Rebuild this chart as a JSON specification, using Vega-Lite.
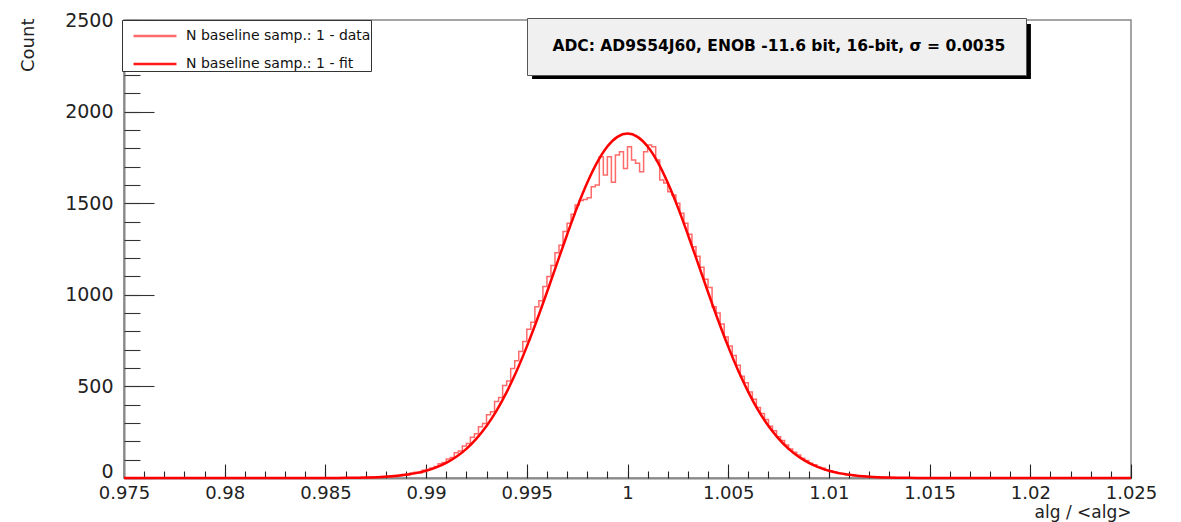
{
  "$schema": "https://vega.github.io/schema/vega-lite/v6.json",
  "width": 1007,
  "height": 458,
  "autosize": {"type": "none"},
  "padding": {"left": 124, "top": 20, "right": 50, "bottom": 44},
  "background": "white",
  "config": {
    "font": "DejaVu Sans",
    "view": {"stroke": "#888888", "strokeWidth": 1.5}
  },
  "resolve": {"axis": {"x": "independent", "y": "independent"}, "scale": {"x": "shared", "y": "shared"}},
  "layer": [
    {
      "data": {"values": [
        {"x": 0.975, "count": 0},
        {"x": 0.9870, "count": 2}, {"x": 0.9872, "count": 5}, {"x": 0.9874, "count": 3}, {"x": 0.9876, "count": 6}, {"x": 0.9878, "count": 8},
        {"x": 0.9880, "count": 10}, {"x": 0.9882, "count": 7}, {"x": 0.9884, "count": 14}, {"x": 0.9886, "count": 12}, {"x": 0.9888, "count": 19},
        {"x": 0.9890, "count": 17}, {"x": 0.9892, "count": 27}, {"x": 0.9894, "count": 31}, {"x": 0.9896, "count": 29}, {"x": 0.9898, "count": 42},
        {"x": 0.9900, "count": 47}, {"x": 0.9902, "count": 55}, {"x": 0.9904, "count": 63}, {"x": 0.9906, "count": 78}, {"x": 0.9908, "count": 85},
        {"x": 0.9910, "count": 104}, {"x": 0.9912, "count": 112}, {"x": 0.9914, "count": 138}, {"x": 0.9916, "count": 147}, {"x": 0.9918, "count": 175},
        {"x": 0.9920, "count": 188}, {"x": 0.9922, "count": 222}, {"x": 0.9924, "count": 241}, {"x": 0.9926, "count": 280}, {"x": 0.9928, "count": 298},
        {"x": 0.9930, "count": 345}, {"x": 0.9932, "count": 362}, {"x": 0.9934, "count": 418}, {"x": 0.9936, "count": 440}, {"x": 0.9938, "count": 505},
        {"x": 0.9940, "count": 530}, {"x": 0.9942, "count": 598}, {"x": 0.9944, "count": 640}, {"x": 0.9946, "count": 690}, {"x": 0.9948, "count": 745},
        {"x": 0.9950, "count": 812}, {"x": 0.9952, "count": 850}, {"x": 0.9954, "count": 935}, {"x": 0.9956, "count": 968}, {"x": 0.9958, "count": 1045},
        {"x": 0.9960, "count": 1100}, {"x": 0.9962, "count": 1160}, {"x": 0.9964, "count": 1230}, {"x": 0.9966, "count": 1270}, {"x": 0.9968, "count": 1345},
        {"x": 0.9970, "count": 1390}, {"x": 0.9972, "count": 1440}, {"x": 0.9974, "count": 1490}, {"x": 0.9976, "count": 1515}, {"x": 0.9978, "count": 1520},
        {"x": 0.9980, "count": 1530}, {"x": 0.9982, "count": 1590}, {"x": 0.9984, "count": 1600}, {"x": 0.9986, "count": 1754}, {"x": 0.9988, "count": 1654},
        {"x": 0.9990, "count": 1754}, {"x": 0.9992, "count": 1615}, {"x": 0.9994, "count": 1763}, {"x": 0.9996, "count": 1781}, {"x": 0.9998, "count": 1690},
        {"x": 1.0000, "count": 1808}, {"x": 1.0002, "count": 1736}, {"x": 1.0004, "count": 1718}, {"x": 1.0006, "count": 1672}, {"x": 1.0008, "count": 1781},
        {"x": 1.0010, "count": 1818}, {"x": 1.0012, "count": 1808}, {"x": 1.0014, "count": 1736}, {"x": 1.0016, "count": 1627}, {"x": 1.0018, "count": 1610},
        {"x": 1.0020, "count": 1563}, {"x": 1.0022, "count": 1545}, {"x": 1.0024, "count": 1500}, {"x": 1.0026, "count": 1445}, {"x": 1.0028, "count": 1390},
        {"x": 1.0030, "count": 1330}, {"x": 1.0032, "count": 1262}, {"x": 1.0034, "count": 1210}, {"x": 1.0036, "count": 1150}, {"x": 1.0038, "count": 1085},
        {"x": 1.0040, "count": 1040}, {"x": 1.0042, "count": 935}, {"x": 1.0044, "count": 900}, {"x": 1.0046, "count": 840}, {"x": 1.0048, "count": 770},
        {"x": 1.0050, "count": 720}, {"x": 1.0052, "count": 668}, {"x": 1.0054, "count": 615}, {"x": 1.0056, "count": 555}, {"x": 1.0058, "count": 520},
        {"x": 1.0060, "count": 470}, {"x": 1.0062, "count": 430}, {"x": 1.0064, "count": 385}, {"x": 1.0066, "count": 352}, {"x": 1.0068, "count": 320},
        {"x": 1.0070, "count": 282}, {"x": 1.0072, "count": 258}, {"x": 1.0074, "count": 225}, {"x": 1.0076, "count": 205}, {"x": 1.0078, "count": 180},
        {"x": 1.0080, "count": 158}, {"x": 1.0082, "count": 140}, {"x": 1.0084, "count": 126}, {"x": 1.0086, "count": 108}, {"x": 1.0088, "count": 95},
        {"x": 1.0090, "count": 81}, {"x": 1.0092, "count": 72}, {"x": 1.0094, "count": 60}, {"x": 1.0096, "count": 54}, {"x": 1.0098, "count": 44},
        {"x": 1.0100, "count": 39}, {"x": 1.0102, "count": 33}, {"x": 1.0104, "count": 25}, {"x": 1.0106, "count": 24}, {"x": 1.0108, "count": 18},
        {"x": 1.0110, "count": 17}, {"x": 1.0112, "count": 12}, {"x": 1.0114, "count": 11}, {"x": 1.0116, "count": 9}, {"x": 1.0118, "count": 8},
        {"x": 1.0120, "count": 6}, {"x": 1.0122, "count": 5}, {"x": 1.0124, "count": 3}, {"x": 1.0126, "count": 4}, {"x": 1.0128, "count": 2},
        {"x": 1.0130, "count": 0},
        {"x": 1.025, "count": 0}
      ]},
      "mark": {"type": "line", "interpolate": "step-after", "strokeWidth": 1.5, "opacity": 0.9},
      "encoding": {
        "x": {"field": "x", "type": "quantitative",
          "scale": {"domain": [0.975, 1.025], "nice": false, "zero": false},
          "axis": {"orient": "bottom", "values": [0.975, 0.98, 0.985, 0.99, 0.995, 1, 1.005, 1.01, 1.015, 1.02, 1.025],
            "format": "~g", "grid": false, "tickSize": -14, "tickColor": "#222222", "tickWidth": 1.1,
            "labelFont": "DejaVu Sans", "labelFontSize": 18, "labelColor": "#222222", "labelPadding": 20, "labelDx": -3,
            "labelFlush": false, "labelOverlap": false, "domainColor": "#888888", "domainWidth": 2,
            "title": "alg / <alg>", "titleFont": "DejaVu Sans", "titleFontSize": 17, "titleFontWeight": "normal", "titleColor": "#222222",
            "titleAlign": "right", "titleBaseline": "alphabetic", "titleX": 1007, "titleY": 39}},
        "y": {"field": "count", "type": "quantitative",
          "scale": {"domain": [0, 2500], "nice": false},
          "axis": {"orient": "left", "values": [0, 500, 1000, 1500, 2000, 2500], "format": "d", "grid": false,
            "tickSize": -30, "tickColor": "#333333", "tickWidth": 1.1,
            "labelFont": "DejaVu Sans", "labelFontSize": 19, "labelColor": "#222222", "labelPadding": 41,
            "labelOffset": {"condition": {"test": "datum.value === 0", "value": -7}, "value": 0},
            "labelFlush": false, "labelOverlap": false, "domainColor": "#888888", "domainWidth": 2,
            "title": "Count", "titleFont": "DejaVu Sans", "titleFontSize": 18, "titleFontWeight": "normal", "titleColor": "#222222",
            "titleAngle": -90, "titleAlign": "right", "titleBaseline": "middle", "titleX": -96, "titleY": -2}},
        "color": {"datum": "N baseline samp.: 1 - data", "type": "nominal",
          "scale": {"domain": ["N baseline samp.: 1 - data", "N baseline samp.: 1 - fit"], "range": ["#ff5a5a", "#ff0000"]},
          "legend": {"orient": "none", "legendX": -2, "legendY": 0, "title": null, "padding": 0,
            "symbolType": "M-1.48,0H1.48", "symbolSize": 841, "symbolStrokeWidth": 2.5, "symbolOffset": 17,
            "labelOffset": 15, "rowPadding": 5, "labelFont": "DejaVu Sans", "labelFontSize": 14, "labelColor": "#111111",
            "labelLimit": 1000, "fillColor": "white", "strokeColor": "#333333"}}
      }
    },
    {
      "data": {"values": [
        {"x": 0.975, "fit": 0}, {"x": 0.980, "fit": 0}, {"x": 0.985, "fit": 0.3}, {"x": 0.986, "fit": 1}, {"x": 0.987, "fit": 2.8},
        {"x": 0.988, "fit": 7.3}, {"x": 0.9885, "fit": 11.4}, {"x": 0.989, "fit": 17.7}, {"x": 0.9895, "fit": 26.7}, {"x": 0.990, "fit": 39.7},
        {"x": 0.9905, "fit": 57.8}, {"x": 0.991, "fit": 82.6}, {"x": 0.9915, "fit": 116}, {"x": 0.992, "fit": 159}, {"x": 0.9925, "fit": 215},
        {"x": 0.993, "fit": 284}, {"x": 0.9935, "fit": 368}, {"x": 0.994, "fit": 469}, {"x": 0.9945, "fit": 585}, {"x": 0.995, "fit": 717},
        {"x": 0.9955, "fit": 861}, {"x": 0.996, "fit": 1014}, {"x": 0.9965, "fit": 1172}, {"x": 0.997, "fit": 1328}, {"x": 0.9975, "fit": 1477},
        {"x": 0.998, "fit": 1611}, {"x": 0.9985, "fit": 1724}, {"x": 0.999, "fit": 1809}, {"x": 0.9995, "fit": 1862}, {"x": 1.000, "fit": 1880},
        {"x": 1.0005, "fit": 1862}, {"x": 1.001, "fit": 1809}, {"x": 1.0015, "fit": 1724}, {"x": 1.002, "fit": 1611}, {"x": 1.0025, "fit": 1477},
        {"x": 1.003, "fit": 1328}, {"x": 1.0035, "fit": 1172}, {"x": 1.004, "fit": 1014}, {"x": 1.0045, "fit": 861}, {"x": 1.005, "fit": 717},
        {"x": 1.0055, "fit": 585}, {"x": 1.006, "fit": 469}, {"x": 1.0065, "fit": 368}, {"x": 1.007, "fit": 284}, {"x": 1.0075, "fit": 215},
        {"x": 1.008, "fit": 159}, {"x": 1.0085, "fit": 116}, {"x": 1.009, "fit": 82.6}, {"x": 1.0095, "fit": 57.8}, {"x": 1.010, "fit": 39.7},
        {"x": 1.0105, "fit": 26.7}, {"x": 1.011, "fit": 17.7}, {"x": 1.0115, "fit": 11.4}, {"x": 1.012, "fit": 7.3}, {"x": 1.013, "fit": 2.8},
        {"x": 1.014, "fit": 1}, {"x": 1.015, "fit": 0.3}, {"x": 1.020, "fit": 0}, {"x": 1.025, "fit": 0}
      ]},
      "mark": {"type": "line", "interpolate": "monotone", "strokeWidth": 2.5},
      "encoding": {
        "x": {"field": "x", "type": "quantitative",
          "scale": {"domain": [0.975, 1.025], "nice": false, "zero": false},
          "axis": {"orient": "bottom", "values": [0.975, 0.976, 0.977, 0.978, 0.979, 0.98, 0.981, 0.982, 0.983, 0.984, 0.985, 0.986, 0.987, 0.988, 0.989, 0.99, 0.991, 0.992, 0.993, 0.994, 0.995, 0.996, 0.997, 0.998, 0.999, 1, 1.001, 1.002, 1.003, 1.004, 1.005, 1.006, 1.007, 1.008, 1.009, 1.01, 1.011, 1.012, 1.013, 1.014, 1.015, 1.016, 1.017, 1.018, 1.019, 1.02, 1.021, 1.022, 1.023, 1.024, 1.025],
            "labels": false, "domain": false, "grid": false, "tickSize": -7, "tickColor": "#222222", "tickWidth": 1.1, "title": null}},
        "y": {"field": "fit", "type": "quantitative",
          "scale": {"domain": [0, 2500], "nice": false},
          "axis": {"orient": "left", "values": [0, 100, 200, 300, 400, 500, 600, 700, 800, 900, 1000, 1100, 1200, 1300, 1400, 1500, 1600, 1700, 1800, 1900, 2000, 2100, 2200, 2300, 2400, 2500],
            "labels": false, "domain": false, "grid": false, "tickSize": -16, "tickColor": "#333333", "tickWidth": 1.1, "title": null}},
        "color": {"datum": "N baseline samp.: 1 - fit", "type": "nominal"}
      }
    },
    {
      "data": {"values": [{}]},
      "mark": {"type": "point", "opacity": 0},
      "encoding": {
        "fill": {"datum": "shadow", "type": "nominal",
          "scale": {"range": ["#000000"]},
          "legend": {"orient": "none", "legendX": 630, "legendY": 4, "title": null, "padding": 0,
            "labelExpr": "''", "labelOffset": 0,
            "symbolType": "M-9.07,-1H9.07V1H-9.07Z", "symbolSize": 3025, "symbolOpacity": 1,
            "symbolFillColor": "#000000", "symbolStrokeWidth": 0}}
      }
    },
    {
      "data": {"values": [{}]},
      "mark": {"type": "point", "opacity": 0},
      "encoding": {
        "stroke": {"datum": "ADC: AD9S54J60, ENOB -11.6 bit, 16-bit, σ = 0.0035", "type": "nominal",
          "scale": {"range": ["#000000"]},
          "legend": {"orient": "none", "legendX": 403, "legendY": -2, "title": null, "padding": 20,
            "symbolOpacity": 0, "symbolSize": 1, "labelOffset": -10, "labelLimit": 1000,
            "labelFont": "DejaVu Sans", "labelFontWeight": "bold", "labelFontSize": 15.5, "labelColor": "#000000",
            "fillColor": "#f0f0f0", "strokeColor": "#555555"}}
      }
    }
  ]
}
